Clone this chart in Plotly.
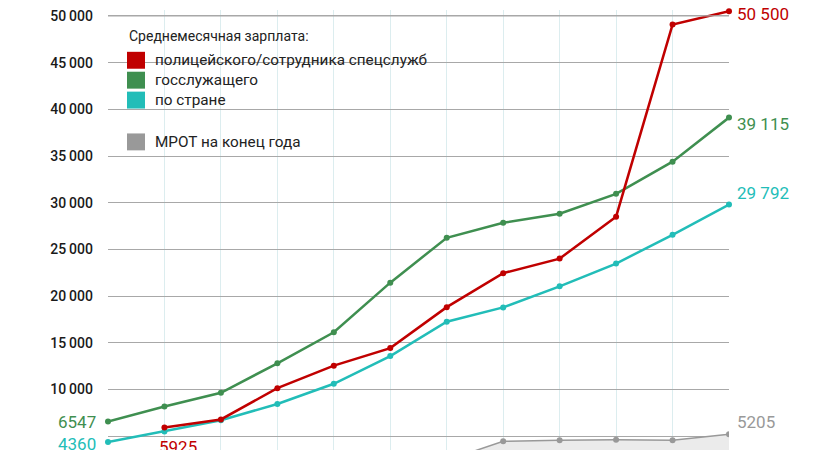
import plotly.graph_objects as go

# годы
years = [2002, 2003, 2004, 2005, 2006, 2007, 2008, 2009, 2010, 2011, 2012, 2013]

# среднемесячная зарплата, руб.
police = [None, 5925, 6780, 10130, 12540, 14420, 18810, 22450, 24010, 28500, 49080, 50500]
civil = [6547, 8160, 9640, 12790, 16120, 21430, 26240, 27850, 28820, 30950, 34390, 39115]
country = [4360, 5500, 6700, 8430, 10600, 13570, 17250, 18780, 21040, 23480, 26560, 29792]
mrot = [450, 600, 720, 800, 1100, 2300, 2400, 4440, 4550, 4610, 4550, 5205]

y_ticks = [5000, 10000, 15000, 20000, 25000, 30000, 35000, 40000, 45000, 50000]

RED = "#c00000"
GREEN = "#3f8f50"
TEAL = "#22bdb8"
GRAY = "#999999"
GRID = "#a8a8a8"
FONT = "Roboto"

# страница имеет отступ 8px, поэтому фигура чуть меньше окна
W, H = 832, 442
L, R = 100, 111
PLOT_W = W - L - R


def fmt(v):
    # подпись 5 000 в оригинале закрыта подписями рядов
    if v == 5000:
        return ""
    return f"{v:,}".replace(",", "\u2009")


def lbl(x, y, text, color, anchor, dx, dy):
    fig.add_annotation(x=x, y=y, text=text, xanchor=anchor, yanchor="middle",
                       xshift=dx, yshift=dy, showarrow=False,
                       font=dict(color=color, size=17, family=FONT))


fig = go.Figure()

fig.add_trace(go.Scatter(
    x=years, y=mrot, mode="lines+markers", fill="tozeroy",
    fillcolor="#ebebeb", line=dict(color=GRAY, width=1.5),
    marker=dict(size=6, color=GRAY), showlegend=False))

# верхняя линия сетки (у самого края plotly её не рисует)
fig.add_shape(type="line", xref="x", yref="y", x0=years[0], x1=years[-1],
              y0=y_ticks[-1], y1=y_ticks[-1], line=dict(color=GRID, width=1.2), layer="above")

for vals, col in [(country, TEAL), (civil, GREEN), (police, RED)]:
    fig.add_trace(go.Scatter(
        x=years, y=vals, mode="lines+markers",
        line=dict(color=col, width=2.5), marker=dict(size=6, color=col),
        showlegend=False, cliponaxis=False))

# подписи значений
lbl(years[-1], police[-1], "50 500", RED, "left", 6, -3)
lbl(years[-1], civil[-1], "39 115", GREEN, "left", 6, -6)
lbl(years[-1], country[-1], "29 792", TEAL, "left", 6, 12)
lbl(years[-1], mrot[-1], str(mrot[-1]), GRAY, "left", 6, 12)
lbl(years[0], civil[0], str(civil[0]), GREEN, "right", -10, 0)
lbl(years[0], country[0], str(country[0]), TEAL, "right", -10, -2)
lbl(years[1], police[1], str(police[1]), RED, "left", -7, -20)

# легенда
fig.add_annotation(xref="paper", yref="paper", x=19 / PLOT_W, y=1 - 26 / H,
                   text="Среднемесячная зарплата:", xanchor="left", yanchor="middle",
                   showarrow=False, font=dict(size=14, color="#222", family=FONT))
legend_items = [("полицейского/сотрудника спецслужб", RED, 50.5),
                ("госслужащего", GREEN, 70.5),
                ("по стране", TEAL, 90.5),
                ("МРОТ на конец года", GRAY, 132.5)]
for text, col, yc in legend_items:
    fig.add_shape(type="rect", xref="paper", yref="paper",
                  x0=19 / PLOT_W, x1=37 / PLOT_W, y0=1 - (yc + 8.5) / H, y1=1 - (yc - 8.5) / H,
                  fillcolor=col, line=dict(width=0), layer="above")
    fig.add_annotation(xref="paper", yref="paper", x=45 / PLOT_W, y=1 - yc / H,
                       text=text, xanchor="left", yanchor="middle", showarrow=False,
                       font=dict(size=15.3, color="#222", family=FONT))

fig.update_layout(
    width=W, height=H,
    margin=dict(l=L, r=R, t=0, b=0),
    plot_bgcolor="white", paper_bgcolor="white",
    font=dict(family=FONT, color="#222"),
)
fig.update_xaxes(range=[2002, 2013], tickvals=years, showticklabels=False,
                 showgrid=True, gridcolor="#dcedef", gridwidth=1, zeroline=False)
fig.update_yaxes(range=[3507, 50640], tickvals=y_ticks, ticktext=[fmt(v) for v in y_ticks],
                 showgrid=True, gridcolor=GRID, gridwidth=1, zeroline=False,
                 ticklabelstandoff=14, ticklabeloverflow="allow",
                 tickfont=dict(size=14, color="#1a1a1a", family=FONT, weight=500))

fig.write_html("out.html")
